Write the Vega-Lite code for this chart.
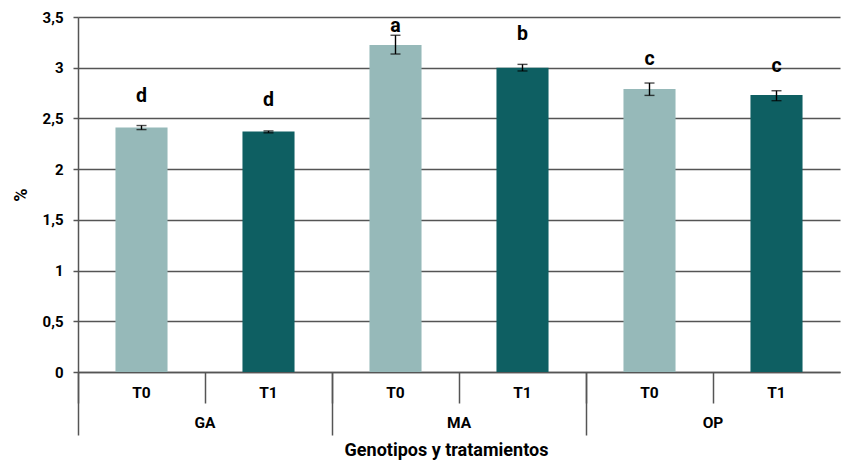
{
  "$schema": "https://vega.github.io/schema/vega-lite/v6.json",
  "width": 762,
  "height": 355,
  "autosize": "none",
  "padding": {"left": 78, "top": 17, "right": 3, "bottom": 89},
  "background": "white",
  "config": {
    "font": "Roboto",
    "view": {"stroke": null},
    "axis": {"labelFont": "Roboto", "titleFont": "Roboto", "labelColor": "#000", "titleColor": "#000"}
  },
  "data": {
    "values": [
      {"g": "GA", "t": "T0", "cat": "GA T0", "v": 2.41, "lo": 2.39, "hi": 2.43, "letter": "d", "ly": 2.66},
      {"g": "GA", "t": "T1", "cat": "GA T1", "v": 2.37, "lo": 2.358, "hi": 2.377, "letter": "d", "ly": 2.62},
      {"g": "MA", "t": "T0", "cat": "MA T0", "v": 3.225, "lo": 3.135, "hi": 3.32, "letter": "a", "ly": 3.35},
      {"g": "MA", "t": "T1", "cat": "MA T1", "v": 3.0, "lo": 2.968, "hi": 3.033, "letter": "b", "ly": 3.27},
      {"g": "OP", "t": "T0", "cat": "OP T0", "v": 2.79, "lo": 2.727, "hi": 2.849, "letter": "c", "ly": 3.03},
      {"g": "OP", "t": "T1", "cat": "OP T1", "v": 2.73, "lo": 2.675, "hi": 2.773, "letter": "c", "ly": 2.96}
    ]
  },
  "layer": [
    {
      "layer": [
        {
          "mark": {"type": "bar", "width": {"band": 0.41}},
          "encoding": {
            "x": {
              "field": "cat", "type": "nominal", "sort": null,
              "scale": {"type": "band", "paddingInner": 0, "paddingOuter": 0},
              "axis": {
                "orient": "bottom", "title": null, "grid": false,
                "labelExpr": "split(datum.value, ' ')[1]",
                "labelAngle": 0, "labelFontSize": 15.5, "labelFontWeight": "bold",
                "labelBaseline": "middle", "labelPadding": -11,
                "bandPosition": 0, "tickExtra": false,
                "tickSize": 31, "tickColor": "#555", "tickWidth": 1.5,
                "domain": true, "domainColor": "#555", "domainWidth": 1.5
              }
            },
            "y": {
              "field": "v", "type": "quantitative",
              "scale": {"domain": [0, 3.5], "nice": false},
              "axis": {
                "title": "%", "titleFontSize": 18, "titleFontWeight": "bold", "titlePadding": 12,
                "values": [0, 0.5, 1, 1.5, 2, 2.5, 3, 3.5],
                "labelExpr": "replace(format(datum.value, ''), '.', ',')",
                "labelFontSize": 15, "labelFontWeight": "bold", "labelPadding": 10,
                "grid": true, "gridColor": "#555", "gridWidth": 1.5,
                "tickSize": 5, "tickColor": "#555", "tickWidth": 1.5,
                "domain": true, "domainColor": "#555", "domainWidth": 1.5
              }
            },
            "color": {
              "field": "t", "type": "nominal",
              "scale": {"domain": ["T0", "T1"], "range": ["#96B9B9", "#0E5F62"]},
              "legend": null
            }
          }
        },
        {
          "mark": {"type": "rule", "color": "#000", "strokeWidth": 1.4},
          "encoding": {
            "x": {"field": "cat", "type": "nominal", "sort": null},
            "y": {"field": "lo", "type": "quantitative"},
            "y2": {"field": "hi"}
          }
        },
        {
          "mark": {"type": "tick", "color": "#000", "size": 10, "thickness": 1.4, "orient": "horizontal"},
          "encoding": {
            "x": {"field": "cat", "type": "nominal", "sort": null},
            "y": {"field": "lo", "type": "quantitative"}
          }
        },
        {
          "mark": {"type": "tick", "color": "#000", "size": 10, "thickness": 1.4, "orient": "horizontal"},
          "encoding": {
            "x": {"field": "cat", "type": "nominal", "sort": null},
            "y": {"field": "hi", "type": "quantitative"}
          }
        }
      ]
    },
    {
      "mark": {"type": "text", "fontSize": 19.5, "fontWeight": "bold", "baseline": "alphabetic", "color": "#000"},
      "encoding": {
        "x": {
          "field": "g", "type": "nominal", "sort": null,
          "scale": {"type": "band", "paddingInner": 0, "paddingOuter": 0},
          "axis": {
            "orient": "bottom", "grid": false,
            "title": "Genotipos y tratamientos", "titleFontSize": 18, "titleFontWeight": "bold",
            "titleX": 368, "titleY": 78, "titleBaseline": "middle", "titleAlign": "center",
            "labelAngle": 0, "labelFontSize": 15.5, "labelFontWeight": "bold",
            "labelBaseline": "middle", "labelPadding": -13,
            "bandPosition": 0, "tickExtra": false,
            "tickSize": 63, "tickColor": "#555", "tickWidth": 1.5,
            "domain": false
          }
        },
        "xOffset": {
          "field": "t", "type": "nominal",
          "scale": {"type": "band", "paddingInner": 0, "paddingOuter": 0}
        },
        "y": {"field": "ly", "type": "quantitative"},
        "text": {"field": "letter"}
      }
    }
  ],
  "resolve": {"scale": {"x": "independent"}}
}
